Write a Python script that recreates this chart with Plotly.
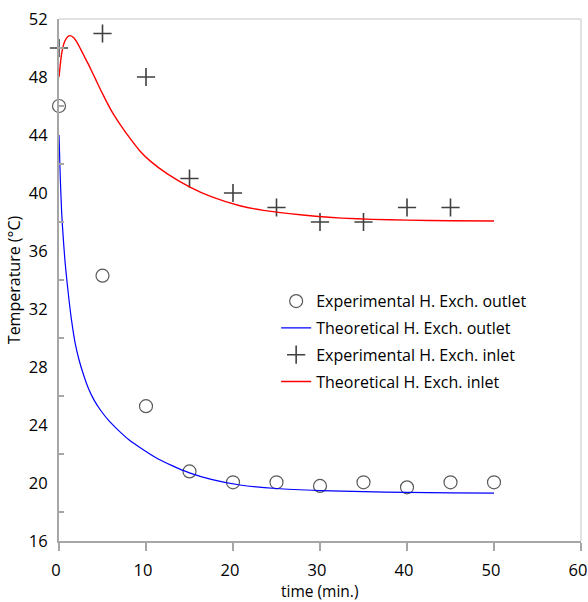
import plotly.graph_objects as go

# Experimental data
t_exp_out = [0, 5, 10, 15, 20, 25, 30, 35, 40, 45, 50]
T_exp_out = [46.0, 34.3, 25.3, 20.8, 20.05, 20.05, 19.8, 20.05, 19.7, 20.05, 20.05]

t_exp_in = [0, 5, 10, 15, 20, 25, 30, 35, 40, 45]
T_exp_in = [50.0, 51.0, 48.0, 41.0, 40.0, 39.0, 38.0, 38.0, 39.0, 39.0]

# Theoretical curves
t_th_out = [0, 0.15, 0.31, 0.5, 0.69, 0.9, 1.1, 1.4, 1.84, 2.3, 2.8, 3.4, 4.0, 4.8, 5.8, 6.8,
            8.0, 9.3, 11, 13, 15, 17.5, 20.8, 25, 30, 35, 40, 45, 50]
T_th_out = [44.0, 41.0, 38.6, 36.8, 35.3, 34.0, 32.9, 31.4, 29.7, 28.5, 27.5, 26.5, 25.75, 25.0, 24.25, 23.65,
            23.0, 22.45, 21.8, 21.2, 20.7, 20.25, 19.86, 19.62, 19.48, 19.4, 19.35, 19.32, 19.3]

t_th_in = [0, 0.3, 0.65, 1.0, 1.3, 1.7, 2.2, 2.8, 3.4, 4.2, 5.0, 6.0, 7.0, 8.0, 9.3, 10.5, 12.5,
           15, 17.5, 20.8, 23.5, 26.5, 29.5, 32.5, 36, 40, 45, 50]
T_th_in = [48.0, 49.6, 50.45, 50.78, 50.85, 50.7, 50.25, 49.55, 48.85, 47.85, 46.85, 45.7, 44.75, 43.9, 42.9, 42.2, 41.3,
           40.43, 39.75, 39.12, 38.8, 38.58, 38.4, 38.27, 38.18, 38.13, 38.09, 38.07]

x_ticks = [0, 10, 20, 30, 40, 50, 60]
y_ticks = [16, 20, 24, 28, 32, 36, 40, 44, 48, 52]
y_minor = [18, 22, 26, 30, 34, 38, 42, 46, 50]

FONT = "Open Sans"
FS = 16.5
AX = "#a6a6a6"

fig = go.Figure()
fig.add_trace(go.Scatter(
    x=t_exp_out, y=T_exp_out, mode="markers", name="Experimental H. Exch. outlet",
    marker=dict(symbol="circle-open", size=13, color="#595959", line=dict(width=1.2, color="#595959")),
    cliponaxis=False, legendgroup="a"))
fig.add_trace(go.Scatter(
    x=t_th_out, y=T_th_out, mode="lines", name="Theoretical H. Exch. outlet",
    line=dict(color="#0000ff", width=1.2, shape="spline", smoothing=0.6), legendgroup="b"))
fig.add_trace(go.Scatter(
    x=t_exp_in, y=T_exp_in, mode="markers", name="Experimental H. Exch. inlet",
    marker=dict(symbol="cross-thin-open", size=13, color="#404040", line=dict(width=1.6, color="#404040")),
    cliponaxis=False, legendgroup="c"))
fig.add_trace(go.Scatter(
    x=t_th_in, y=T_th_in, mode="lines", name="Theoretical H. Exch. inlet",
    line=dict(color="#ff0000", width=1.4, shape="spline", smoothing=0.6), legendgroup="d"))

fig.update_layout(
    width=588, height=602,
    margin=dict(l=59, r=7, t=19, b=61),
    paper_bgcolor="white", plot_bgcolor="white",
    font=dict(family=FONT, size=FS, color="#000000"),
    showlegend=True,
    legend=dict(x=0.416, y=0.492, xanchor="left", yanchor="top",
                bgcolor="rgba(0,0,0,0)", font=dict(family=FONT, size=16),
                tracegroupgap=3, itemwidth=30),
    xaxis=dict(range=[0, 60], tickvals=x_ticks, ticks="outside", ticklen=8, tickwidth=2,
               tickcolor=AX, showline=True, linecolor=AX, linewidth=2, showgrid=False,
               zeroline=False, tickfont=dict(family=FONT, size=FS), ticklabelstandoff=5,
               ticklabelshift=-3, automargin=False),
    yaxis=dict(range=[16, 52], tickvals=y_ticks, ticks="", showline=True, linecolor=AX,
               linewidth=2, showgrid=False, zeroline=False,
               minor=dict(tickmode="array", tickvals=y_minor, ticks="inside", ticklen=5,
                          tickwidth=1.5, tickcolor=AX, showgrid=False),
               tickfont=dict(family=FONT, size=FS), ticklabelstandoff=6,
               title=dict(text="Temperature (°C)", font=dict(family=FONT, size=16), standoff=4)),
    annotations=[
        dict(text="time (min.)", xref="paper", yref="paper", x=0.5, y=-0.0965,
             xanchor="center", yanchor="middle", showarrow=False,
             font=dict(family=FONT, size=15.5, color="#000000")),
    ],
    shapes=[
        dict(type="line", xref="paper", yref="paper", x0=0, x1=1, y0=1, y1=1,
             line=dict(color="#d9d9d9", width=1.5)),
        dict(type="line", xref="paper", yref="paper", x0=1, x1=1, y0=0, y1=1,
             line=dict(color="#d9d9d9", width=1.5)),
    ],
)

fig.write_html("out.html")
